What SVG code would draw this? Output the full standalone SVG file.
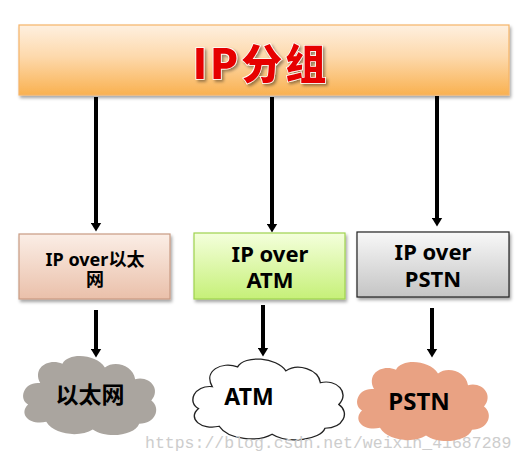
<svg xmlns="http://www.w3.org/2000/svg" xmlns:xlink="http://www.w3.org/1999/xlink" width="529" height="464" viewBox="0 0 529 464">
<style>
.lbl{font-family:"Noto Sans","Noto Sans CJK SC",sans-serif;font-weight:700;fill:#000;text-anchor:middle}
.conn{stroke:#000;stroke-width:4;fill:none;marker-end:url(#ah)}
.wm{font-family:"Liberation Mono",monospace;font-size:16.5px;fill:#cdcdcd}
</style>
<defs>
<linearGradient id="gTop" x1="0" y1="0" x2="0" y2="1">
<stop offset="0" stop-color="#fef0e0"/><stop offset="0.45" stop-color="#fdd9ac"/><stop offset="1" stop-color="#f9b150"/>
</linearGradient>
<linearGradient id="g1" x1="0" y1="0" x2="0" y2="1">
<stop offset="0" stop-color="#fbeee6"/><stop offset="1" stop-color="#eac0aa"/>
</linearGradient>
<linearGradient id="g2" x1="0" y1="0" x2="0" y2="1">
<stop offset="0" stop-color="#f4ffdc"/><stop offset="1" stop-color="#c6f078"/>
</linearGradient>
<linearGradient id="g3" x1="0" y1="0" x2="0" y2="1">
<stop offset="0" stop-color="#f8f8f8"/><stop offset="1" stop-color="#c4c4c4"/>
</linearGradient>
<filter id="sh" x="-10%" y="-20%" width="125%" height="150%">
<feDropShadow dx="1.5" dy="2.5" stdDeviation="1.8" flood-color="#000" flood-opacity="0.35"/>
</filter>
<filter id="tsh" x="-10%" y="-20%" width="130%" height="150%">
<feDropShadow dx="2" dy="2" stdDeviation="1.5" flood-color="#000" flood-opacity="0.4"/>
</filter>
<marker id="ah" markerUnits="userSpaceOnUse" viewBox="0 0 9 11" markerWidth="9" markerHeight="11" refX="0.5" refY="5.5" orient="auto">
<path d="M0,0 L9,5.5 L0,11 Z" fill="#000"/>
</marker>
<path id="cloud" d="M22,32 C6,30 0,48 10,54 C0,64 12,76 28,72 C36,86 62,88 74,80 C88,90 116,86 120,74 C136,74 142,58 132,50 C142,38 130,24 116,28 C114,14 96,8 86,16 C78,2 50,0 44,12 C30,6 14,16 22,32 Z"/>
</defs>
<rect width="529" height="464" fill="#fff"/>

<g id="connectors">
<line class="conn" x1="96" y1="97" x2="96" y2="223"/>
<line class="conn" x1="272" y1="97" x2="272" y2="224"/>
<line class="conn" x1="437" y1="96" x2="437" y2="218"/>
<line class="conn" x1="96" y1="310" x2="96" y2="349"/>
<line class="conn" x1="263" y1="305" x2="263" y2="348"/>
<line class="conn" x1="432" y1="308" x2="432" y2="349"/>
</g>

<g id="ip-packet">
<rect x="19" y="25" width="490" height="70" fill="url(#gTop)" stroke="#f5b468" stroke-width="1.2" filter="url(#sh)"/>
<text x="261" y="79" font-family="'Noto Sans CJK SC',sans-serif" font-weight="900" font-size="41" letter-spacing="3" text-anchor="middle" fill="#e60000" stroke="#fff" stroke-width="1.5" paint-order="stroke" filter="url(#tsh)">IP分组</text>
</g>

<g id="box-ethernet">
<rect x="19" y="234" width="151" height="65" fill="url(#g1)" stroke="#c89a82" stroke-width="1.2" filter="url(#sh)"/>
<text class="lbl" x="95" y="266" font-size="18">IP over以太</text>
<text class="lbl" x="95" y="286" font-size="18">网</text>
</g>

<g id="box-atm">
<rect x="194" y="233" width="151" height="66" fill="url(#g2)" stroke="#9fd24e" stroke-width="1.2" filter="url(#sh)"/>
<text class="lbl" x="270" y="262" font-size="22">IP over</text>
<text class="lbl" x="270" y="288" font-size="22">ATM</text>
</g>

<g id="box-pstn">
<rect x="357" y="232" width="152" height="65" fill="url(#g3)" stroke="#222" stroke-width="1.2" filter="url(#sh)"/>
<text class="lbl" x="433" y="260" font-size="22">IP over</text>
<text class="lbl" x="433" y="287" font-size="22">PSTN</text>
</g>

<g id="cloud-ethernet">
<use xlink:href="#cloud" transform="translate(18,352) scale(1.01,0.97)" fill="#aaa59f"/>
<text class="lbl" x="90" y="403" font-size="23">以太网</text>
</g>

<g id="cloud-atm">
<use xlink:href="#cloud" transform="translate(187,355) scale(1.15,0.99)" fill="#fff" stroke="#222" stroke-width="1.2" vector-effect="non-scaling-stroke"/>
<text class="lbl" x="249" y="405" font-size="23">ATM</text>
</g>

<text class="wm" x="145" y="448">https://blog.csdn.net/weixin_41687289</text>

<g id="cloud-pstn">
<use xlink:href="#cloud" transform="translate(352,358) scale(1.0,0.97)" fill="#e9a283"/>
<text class="lbl" x="419" y="410" font-size="24">PSTN</text>
</g>
</svg>
